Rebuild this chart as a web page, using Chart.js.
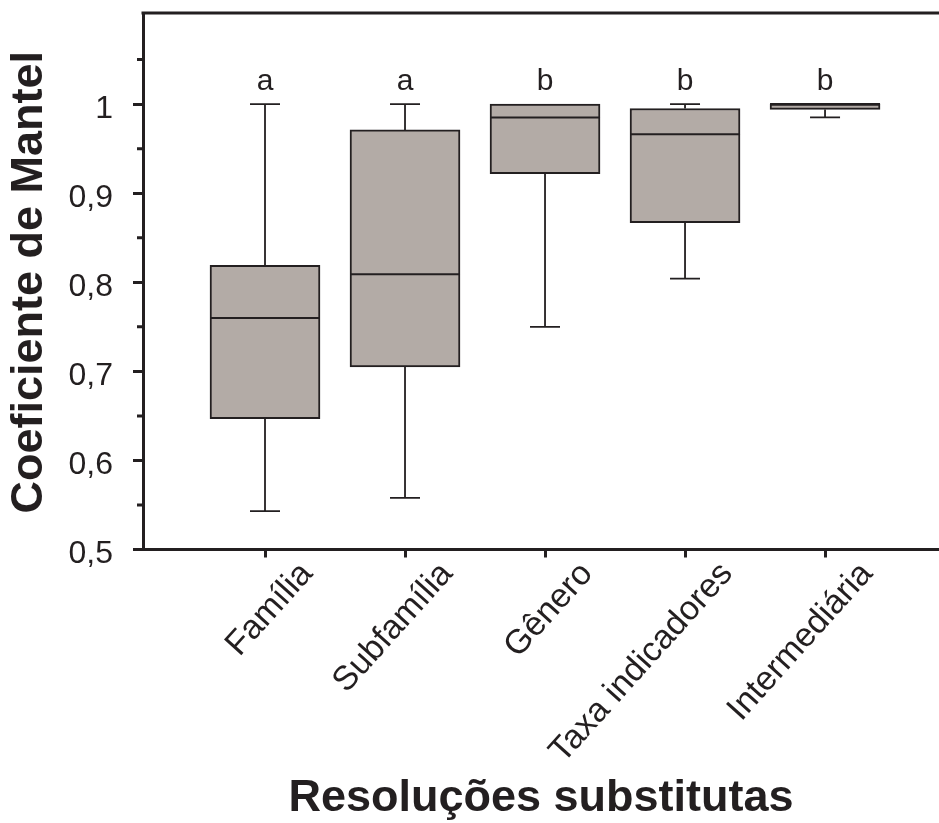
<!DOCTYPE html>
<html>
<head>
<meta charset="utf-8">
<script src="https://cdn.jsdelivr.net/npm/chart.js@4.4.0/dist/chart.umd.min.js"></script>
<style>
  body { margin: 0; background: #fff; overflow: hidden; }
  canvas { display: block; }
</style>
</head>
<body>
<canvas id="boxChart" width="939" height="823"></canvas>
<script>
// data
const categories = ['Família', 'Subfamília', 'Gênero', 'Taxa indicadores', 'Intermediária'];
const whiskerLow = [0.543, 0.558, 0.750, 0.804, 0.985];
const q1 = [0.647, 0.705, 0.922, 0.867, 0.994];
const median = [0.760, 0.809, 0.985, 0.966, 1.000];
const q3 = [0.819, 0.971, 1.000, 0.995, 1.000];
const whiskerHigh = [1.000, 1.000, 1.000, 1.000, 1.000];
const groupLetters = ['a', 'a', 'b', 'b', 'b'];
const yTicks = [0.5, 0.6, 0.7, 0.8, 0.9, 1.0];
const yMinorTicks = [0.55, 0.65, 0.75, 0.85, 0.95, 1.05];

const ink = '#231f20';
const boxFill = '#b3aba6';
const font = "'Liberation Sans', Arial, Helvetica, sans-serif";

const boxes = categories.map((c, i) => ({ x: i + 1, y: [q1[i], q3[i]] }));

const boxPlotExtras = {
  id: 'boxPlotExtras',
  afterDatasetsDraw(chart) {
    const { ctx, chartArea, scales: { y } } = chart;
    const bars = chart.getDatasetMeta(0).data;
    ctx.save();
    ctx.strokeStyle = ink;
    ctx.lineCap = 'butt';
    bars.forEach((bar, i) => {
      const x = bar.x;
      const half = bar.width / 2;
      const cap = 15;
      ctx.lineWidth = 1.8;
      ctx.beginPath();
      if (whiskerHigh[i] > q3[i]) {
        const yt = y.getPixelForValue(whiskerHigh[i]);
        ctx.moveTo(x, y.getPixelForValue(q3[i]));
        ctx.lineTo(x, yt);
        ctx.moveTo(x - cap, yt);
        ctx.lineTo(x + cap, yt);
      }
      if (whiskerLow[i] < q1[i]) {
        const yb = y.getPixelForValue(whiskerLow[i]);
        ctx.moveTo(x, y.getPixelForValue(q1[i]));
        ctx.lineTo(x, yb);
        ctx.moveTo(x - cap, yb);
        ctx.lineTo(x + cap, yb);
      }
      ctx.stroke();

      const ym = y.getPixelForValue(median[i]);
      ctx.lineWidth = 2;
      ctx.beginPath();
      ctx.moveTo(x - half, ym);
      ctx.lineTo(x + half, ym);
      ctx.stroke();

      // group letters
      ctx.fillStyle = ink;
      ctx.font = '30px ' + font;
      ctx.textAlign = 'center';
      ctx.textBaseline = 'alphabetic';
      ctx.fillText(groupLetters[i], x, y.getPixelForValue(whiskerHigh[i]) - 14);
    });

    // minor ticks on y
    ctx.lineWidth = 3;
    ctx.beginPath();
    yMinorTicks.forEach(v => {
      const yy = y.getPixelForValue(v);
      ctx.moveTo(chartArea.left, yy);
      ctx.lineTo(chartArea.left - 6, yy);
    });
    ctx.stroke();

    // top frame line
    ctx.beginPath();
    ctx.moveTo(chartArea.left - 1.5, chartArea.top - 2);
    ctx.lineTo(chart.width, chartArea.top - 2);
    ctx.stroke();
    ctx.restore();
  }
};

new Chart(document.getElementById('boxChart'), {
  type: 'bar',
  data: {
    datasets: [{
      data: boxes,
      backgroundColor: boxFill,
      borderColor: ink,
      borderWidth: 2,
      borderSkipped: false,
      barThickness: 110
    }]
  },
  options: {
    responsive: false,
    animation: false,
    layout: { padding: { top: 15, right: 0, bottom: 0, left: 0 } },
    plugins: { legend: { display: false }, tooltip: { enabled: false } },
    scales: {
      x: {
        type: 'linear',
        offset: false,
        min: 0.1286,
        max: 5.814,
        afterBuildTicks: s => { s.ticks = categories.map((c, i) => ({ value: i + 1 })); },
        afterFit: s => { s.height = 273.5; s.paddingLeft = 0; s.paddingRight = 0; },
        grid: { offset: false, drawOnChartArea: false, tickLength: 8, tickWidth: 3, tickColor: ink },
        border: { color: ink, width: 3 },
        ticks: {
          autoSkip: false,
          minRotation: 48,
          maxRotation: 48,
          padding: -3,
          labelOffset: 42,
          color: ink,
          font: { family: font, size: 34 },
          callback: v => categories[v - 1] ?? ''
        },
        title: {
          display: true,
          text: 'Resoluções substitutas',
          color: ink,
          font: { family: font, size: 45, weight: 'bold', lineHeight: 1.1 },
          padding: { top: 0, bottom: 0 }
        }
      },
      y: {
        min: 0.5,
        max: 1.1,
        afterBuildTicks: s => { s.ticks = yTicks.map(v => ({ value: v })); },
        afterFit: s => { s.width = 143; s.paddingTop = 0; s.paddingBottom = 0; },
        grid: { drawOnChartArea: false, tickLength: 10, tickWidth: 3, tickColor: ink },
        border: { color: ink, width: 3 },
        ticks: {
          padding: 20,
          labelOffset: 5,
          color: ink,
          font: { family: font, size: 32 },
          callback: v => (v === 1 ? '1' : Number(v).toFixed(1).replace('.', ','))
        },
        title: {
          display: true,
          text: 'Coeficiente de Mantel',
          color: ink,
          font: { family: font, size: 45, weight: 'bold', lineHeight: 1.1 },
          padding: { top: 5, bottom: 0 }
        }
      }
    }
  },
  plugins: [boxPlotExtras]
});
</script>
</body>
</html>
